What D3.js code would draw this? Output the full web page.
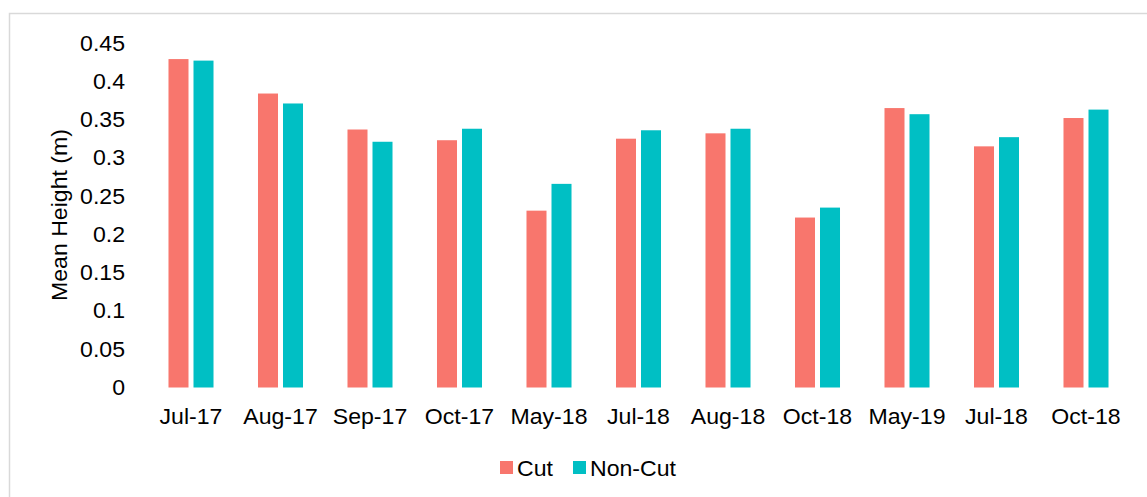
<!DOCTYPE html>
<html>
<head>
<meta charset="utf-8">
<script src="https://cdn.jsdelivr.net/npm/d3@7"></script>
<style>
  body { margin: 0; background: #fff; }
  text { font-family: "Liberation Sans", Arial, sans-serif; fill: #000; }
</style>
</head>
<body>
<div id="chart"></div>
<script>
// values
const months = ['Jul-17', 'Aug-17', 'Sep-17', 'Oct-17', 'May-18', 'Jul-18', 'Aug-18', 'Oct-18', 'May-19', 'Jul-18', 'Oct-18'];
const cutValues = [0.429, 0.384, 0.337, 0.323, 0.231, 0.325, 0.332, 0.222, 0.365, 0.315, 0.352];
const nonCutValues = [0.427, 0.371, 0.321, 0.338, 0.266, 0.336, 0.338, 0.235, 0.357, 0.327, 0.363];
const yTicks = [0, 0.05, 0.1, 0.15, 0.2, 0.25, 0.3, 0.35, 0.4, 0.45];
const seriesNames = ['Cut', 'Non-Cut'];
const seriesColors = ['#F8766D', '#00BFC4'];

const W = 1147, H = 497;
const fontSize = 22;
const sx = 1.05;
const stretch = 'scale(' + sx + ',1)'; // reference text is a bit wider than Liberation

const svg = d3.select('#chart').append('svg')
  .attr('width', W)
  .attr('height', H);

// chart frame (right and bottom edges fall off the picture)
svg.append('rect')
  .attr('x', 9.5).attr('y', 13.5)
  .attr('width', W + 10).attr('height', H + 10)
  .attr('fill', 'none')
  .attr('stroke', '#d9d9d9')
  .attr('stroke-width', 1.5);

const idx = d3.range(months.length);

const x = d3.scaleBand()
  .domain(idx)
  .range([146.25, 1130.75])
  .paddingInner(0.497)
  .paddingOuter(0.2485);

const xSub = d3.scaleBand()
  .domain(seriesNames)
  .range([0, x.bandwidth()])
  .paddingInner(0.2);

const y = d3.scaleLinear()
  .domain([0, 0.45])
  .range([387.5, 43]);

const color = d3.scaleOrdinal().domain(seriesNames).range(seriesColors);

const rows = idx.map(i => ({ i, values: [cutValues[i], nonCutValues[i]] }));

// bars
svg.append('g')
  .selectAll('g')
  .data(rows)
  .enter().append('g')
    .attr('transform', d => 'translate(' + x(d.i) + ',0)')
  .selectAll('rect')
  .data(d => seriesNames.map((k, j) => ({ key: k, value: d.values[j] })))
  .enter().append('rect')
    .attr('x', d => xSub(d.key))
    .attr('y', d => y(d.value))
    .attr('width', xSub.bandwidth())
    .attr('height', d => y(0) - y(d.value))
    .attr('fill', d => color(d.key));

// y axis (labels only)
const yAxis = svg.append('g')
  .attr('transform', 'translate(125,0)')
  .call(d3.axisLeft(y).tickValues(yTicks).tickFormat(d => String(d)).tickSize(0).tickPadding(0));
yAxis.select('.domain').remove();
yAxis.selectAll('text')
  .attr('font-size', fontSize)
  .attr('font-family', '"Liberation Sans", Arial, sans-serif')
  .attr('fill', '#000')
  .attr('transform', stretch)
  .attr('x', 0);

// x axis (labels only)
const xAxis = svg.append('g')
  .attr('transform', 'translate(0,' + y(0) + ')')
  .call(d3.axisBottom(x).tickFormat(i => months[i]).tickSize(0).tickPadding(0));
xAxis.select('.domain').remove();
xAxis.selectAll('.tick').attr('transform', function (i) {
  return 'translate(' + (x(i) + x.bandwidth() / 2) + ',0)';
});
xAxis.selectAll('text')
  .attr('font-size', fontSize)
  .attr('font-family', '"Liberation Sans", Arial, sans-serif')
  .attr('fill', '#000')
  .attr('transform', stretch)
  .attr('y', 36.5)
  .attr('dy', 0);

// y axis title
svg.append('text')
  .attr('transform', 'translate(67,215) rotate(-90) ' + stretch)
  .attr('text-anchor', 'middle')
  .attr('font-size', fontSize)
  .text('Mean Height (m)');

// legend
const legend = svg.append('g');
const legendX = [500, 573];
seriesNames.forEach((name, j) => {
  legend.append('rect')
    .attr('x', legendX[j]).attr('y', 461)
    .attr('width', 13).attr('height', 13)
    .attr('fill', color(name));
  legend.append('text')
    .attr('transform', 'translate(' + (legendX[j] + 17) + ',475.5) ' + stretch)
    .attr('font-size', fontSize)
    .text(name);
});
</script>
</body>
</html>
